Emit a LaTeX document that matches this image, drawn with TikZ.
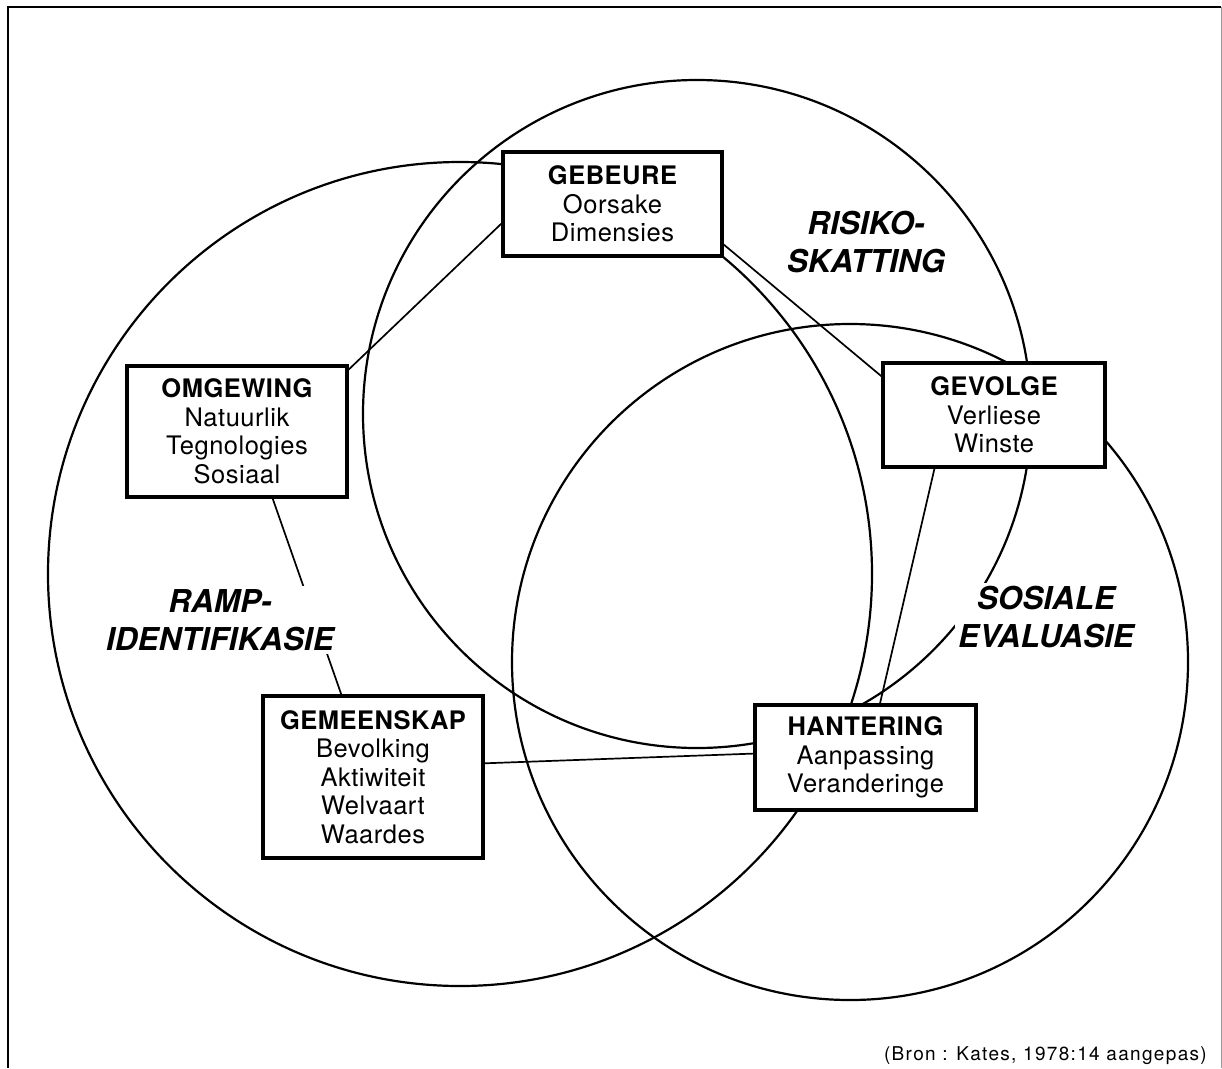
\documentclass[tikz,border=0pt]{standalone}
\usepackage{fontspec}
\setmainfont{TeX Gyre Heros}
\newfontfamily\boxfont[LetterSpace=2]{TeX Gyre Heros}
\newfontfamily\srcfont[LetterSpace=7]{TeX Gyre Heros}

\tikzset{
  frameline/.style={line width=2pt},
  ring/.style={line width=2.2pt},
  conn/.style={line width=1.7pt},
  box/.style={draw, line width=3.2pt, fill=white, align=center, inner sep=0pt,
    font=\boxfont\fontsize{25.5}{28.5}\selectfont},
  lab/.style={fill=white, align=center, inner sep=3pt,
    font=\fontsize{31.5}{38.5}\selectfont\bfseries\itshape},
}

\begin{document}
\begin{tikzpicture}[x=1pt,y=-1pt]
\useasboundingbox (0,0) rectangle (1222,1068);

% outer frame
\draw[frameline] (8,1068) -- (8,7) -- (1221,7);
\draw[draw=black!40, line width=1pt] (1221,7) -- (1221,1068);

% the three overlapping fields
\draw[ring] (697,414) circle [radius=334pt];
\draw[ring] (460,574) circle [radius=412pt];
\draw[ring] (850,662) circle [radius=338pt];

% boxes
\node[box, minimum width=219pt, minimum height=104pt] (geb) at (612.5,204)
  {{\bfseries GEBEURE}\\Oorsake\\Dimensies};
\node[box, minimum width=220pt, minimum height=131pt] (om) at (237,431.5)
  {{\bfseries OMGEWING}\\Natuurlik\\Tegnologies\\Sosiaal};
\node[box, minimum width=222pt, minimum height=104pt] (gev) at (994,415)
  {{\bfseries GEVOLGE}\\Verliese\\Winste};
\node[box, minimum width=221pt, minimum height=105pt] (han) at (865.5,757.5)
  {{\bfseries HANTERING}\\Aanpassing\\Veranderinge};
\node[box, minimum width=220pt, minimum height=162pt] (gem) at (373,777)
  {{\bfseries GEMEENSKAP}\\Bevolking\\Aktiwiteit\\Welvaart\\Waardes};

% links between boxes
\draw[conn] (geb.190) -- (om.29);
\draw[conn] (geb.-20) -- (gev.161);
\draw[conn] (om.-62) -- (gem.111);
\draw[conn] (gem.7) -- (han.178);
\draw[conn] (gev.222) -- (han.75);

% field names
\node[lab] (risk) at (866,242) {RISIKO-\\SKATTING};
\node[lab] (sos) at (1046,617) {SOSIALE\\EVALUASIE};
\node[lab] (ramp) at (220,620) {RAMP-\\IDENTIFIKASIE};

% source
\node[anchor=base east, inner sep=0pt, font=\srcfont\fontsize{19}{21}\selectfont] (src)
  at (1207,1060) {(Bron : Kates, 1978:14 aangepas)};
\end{tikzpicture}
\end{document}
